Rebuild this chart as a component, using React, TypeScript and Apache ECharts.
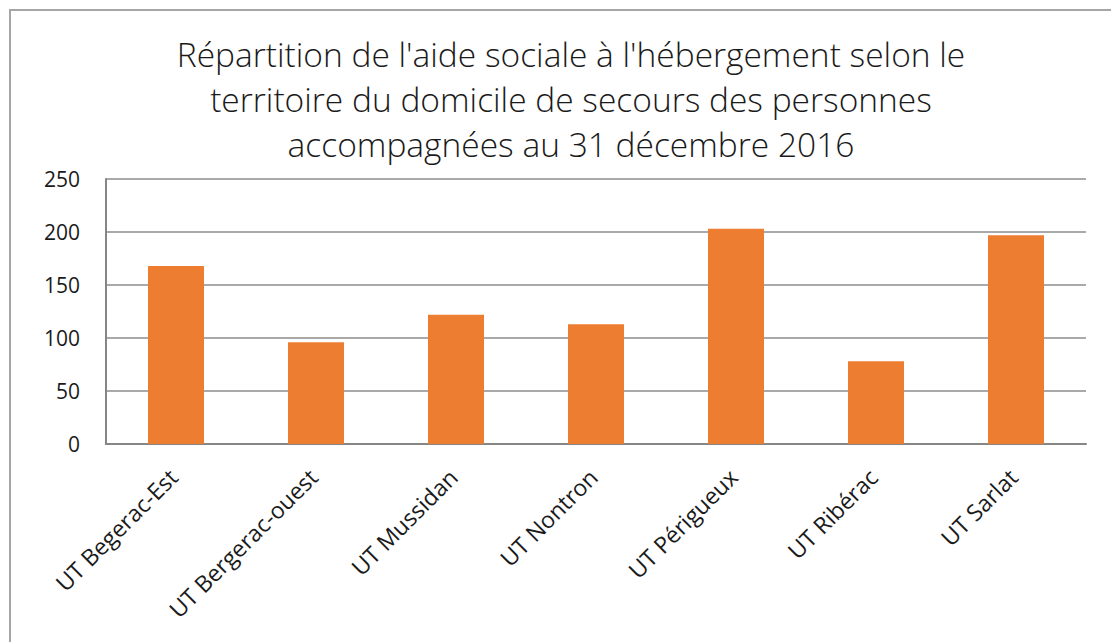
import React, { useEffect, useRef } from "react";
import * as echarts from "echarts";

const categories = [
  "UT Begerac-Est",
  "UT Bergerac-ouest",
  "UT Mussidan",
  "UT Nontron",
  "UT Périgueux",
  "UT Ribérac",
  "UT Sarlat",
];
const values = [168, 96, 122, 113, 203, 78, 197];
const titleLines = [
  "Répartition de l'aide sociale à l'hébergement selon le",
  "territoire du domicile de secours des personnes",
  "accompagnées au 31 décembre 2016",
];

const FONT = "'Open Sans', 'Noto Sans', sans-serif";

export default function App() {
  const ref = useRef<HTMLDivElement>(null);
  useEffect(() => {
    const chart = echarts.init(ref.current!, null, { renderer: "svg" });
    chart.setOption({
      animation: false,
      backgroundColor: "#ffffff",
      title: {
        text: titleLines.join("\n"),
        left: 566,
        top: 26,
        textAlign: "center",
        textStyle: {
          fontFamily: FONT,
          fontWeight: 300,
          fontSize: 33.5,
          lineHeight: 45,
          color: "#1a1a1a",
        },
      },
      graphic: [
        {
          type: "rect",
          shape: { x: 10, y: 10, width: 1300, height: 1000 },
          style: { fill: "none", stroke: "#a6a6a6", lineWidth: 2 },
          silent: true,
        },
      ],
      grid: { left: 106, right: 25, top: 179, bottom: 198, containLabel: false },
      xAxis: {
        type: "category",
        data: categories,
        axisLine: { lineStyle: { color: "#868686", width: 2 } },
        axisTick: { show: false },
        axisLabel: {
          rotate: 45,
          margin: 26,
          padding: [0, 4, 0, 0],
          fontFamily: FONT,
          fontSize: 23,
          color: "#1a1a1a",
          interval: 0,
        },
      },
      yAxis: {
        type: "value",
        min: 0,
        max: 250,
        interval: 50,
        axisLine: { show: true, lineStyle: { color: "#868686", width: 2 } },
        axisTick: { show: false },
        splitLine: { lineStyle: { color: "#8c8c8c", width: 1.5 } },
        axisLabel: {
          margin: 26,
          fontFamily: FONT,
          fontSize: 21,
          color: "#1a1a1a",
        },
      },
      series: [
        {
          type: "bar",
          data: values,
          barWidth: "40%",
          itemStyle: { color: "#ED7D31" },
        },
      ],
    });
    return () => chart.dispose();
  }, []);
  return (
    <div
      ref={ref}
      style={{ position: "absolute", left: 0, top: 0, width: 1111, height: 642 }}
    />
  );
}
